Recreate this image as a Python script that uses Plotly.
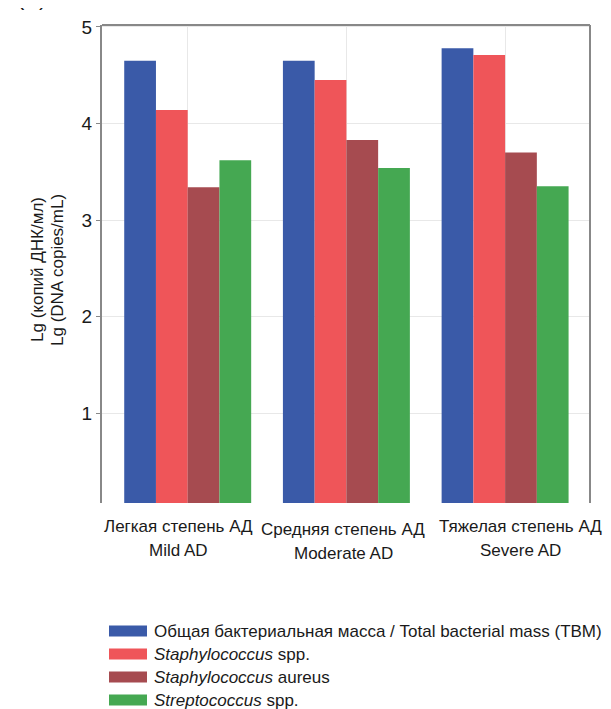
import plotly.graph_objects as go

categories = ["Mild AD", "Moderate AD", "Severe AD"]
category_labels_ru = ["Легкая степень АД", "Средняя степень АД", "Тяжелая степень АД"]
series_names = ["Общая бактериальная масса / Total bacterial mass (TBM)",
                "<i>Staphylococcus</i> spp.",
                "<i>Staphylococcus</i> aureus",
                "<i>Streptococcus</i> spp."]
tbm = [4.65, 4.65, 4.78]
staph_spp = [4.14, 4.45, 4.71]
staph_aureus = [3.34, 3.83, 3.70]
strep_spp = [3.62, 3.54, 3.35]
series_values = [tbm, staph_spp, staph_aureus, strep_spp]
colors = ["#3A5AA8", "#EF5559", "#A64B50", "#45A852"]
y_ticks = [1, 2, 3, 4, 5]
y_title_lines = ["Lg (копий ДНК/мл)", "Lg (DNA copies/mL)"]

W, H = 611, 709
ml, mr, mt, mb = 94, 29, 17, 214
pw, ph = W - ml - mr, H - mt - mb

def py(p):
    """pixel row -> paper y"""
    return (H - mb - p) / ph

def px(p):
    """pixel column -> paper x"""
    return (p - ml) / pw

font = "Liberation Sans, Arial, sans-serif"
txt = "#1a1a1a"

fig = go.Figure()
for name, vals, col in zip(series_names, series_values, colors):
    fig.add_trace(go.Bar(x=categories, y=vals, name=name, marker_color=col,
                         marker_line_width=0, showlegend=False))

# category labels (two lines, slightly spread as in the reference)
label_shift = [-0.06, -0.02, 0.10]
label_drop = [0, 3, 0]
for i, (ru, en) in enumerate(zip(category_labels_ru, categories)):
    for j, line in enumerate([ru, en]):
        fig.add_annotation(xref="x", yref="paper", x=i + label_shift[i],
                           y=py(518 + 24 * j + label_drop[i]),
                           text=line, showarrow=False, xanchor="center", yanchor="middle",
                           font=dict(size=17, color=txt, family=font))

# custom legend (wide swatches like the reference)
leg_y0 = 623
leg_dy = 23
for i, (name, col) in enumerate(zip(series_names, colors)):
    yc = leg_y0 + i * leg_dy
    fig.add_shape(type="rect", xref="paper", yref="paper",
                  x0=px(101), x1=px(139), y0=py(yc + 5.5), y1=py(yc - 5.5),
                  fillcolor=col, line_width=0)
    fig.add_annotation(xref="paper", yref="paper", x=px(144), y=py(yc),
                       text=name, showarrow=False, xanchor="left", yanchor="middle",
                       font=dict(size=17, color=txt, family=font))

# y-axis title, two tightly spaced lines
for i, line in enumerate(y_title_lines):
    fig.add_annotation(xref="paper", yref="paper", x=px(29 + 20 * i), y=py(262),
                       text=line, textangle=-90, showarrow=False,
                       xanchor="center", yanchor="middle",
                       font=dict(size=17, color=txt, family=font))

# panel label (cut at the top edge, as in the reference)
fig.add_annotation(xref="paper", yref="paper", x=px(7), y=py(4),
                   text="(А)", showarrow=False, xanchor="left", yanchor="bottom",
                   font=dict(size=22, color=txt, family=font))

fig.update_layout(
    width=W, height=H,
    margin=dict(l=ml, r=mr, t=mt, b=mb, autoexpand=False),
    barmode="group", bargap=0.2, bargroupgap=0,
    plot_bgcolor="white", paper_bgcolor="white",
    font=dict(family=font, color=txt),
    xaxis=dict(range=[-0.54, 2.535], showgrid=True, gridcolor="#e8e8e8",
               showticklabels=False, automargin=False,
               ticks="", showline=False, zeroline=False),
    yaxis=dict(range=[0.07, 5.02], tickvals=y_ticks, showgrid=True, gridcolor="#e8e8e8",
               tickfont=dict(size=19, family=font, color=txt), automargin=False,
               ticks="outside", ticklen=4, tickcolor="#888", showline=True,
               linecolor="#888", linewidth=2, mirror=False, zeroline=False),
)
# top and right borders
fig.add_shape(type="line", xref="paper", yref="paper", x0=0, x1=1, y0=1, y1=1,
              line=dict(color="#888", width=2))
fig.add_shape(type="line", xref="paper", yref="paper", x0=1, x1=1, y0=0, y1=1,
              line=dict(color="#888", width=2))

fig.write_html("out.html")
